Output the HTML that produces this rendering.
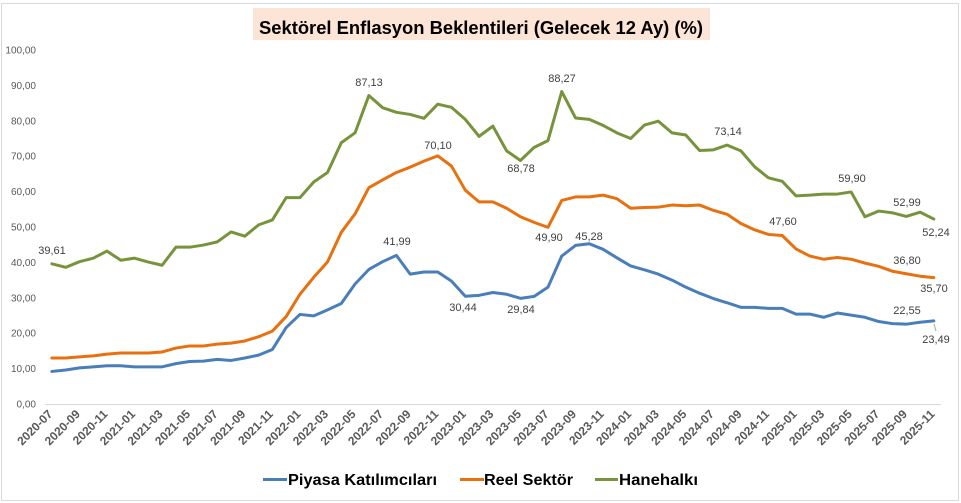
<!DOCTYPE html>
<html><head><meta charset="utf-8"><style>
html,body{margin:0;padding:0;background:#fff;}
svg{display:block;}
text{font-family:"Liberation Sans",Arial,sans-serif;}
</style></head><body>
<svg width="961" height="503" viewBox="0 0 961 503" xmlns="http://www.w3.org/2000/svg">
<rect x="0" y="0" width="961" height="503" fill="#fff"/>
<rect x="1.5" y="3.5" width="957" height="497" fill="none" stroke="#d9d9d9" stroke-width="1"/>
<!-- title -->
<rect x="253" y="8" width="457" height="32" fill="#fce4d6"/>
<text x="259" y="34" font-size="18" font-weight="bold" fill="#000" textLength="444" lengthAdjust="spacingAndGlyphs">Sektörel Enflasyon Beklentileri (Gelecek 12 Ay) (%)</text>
<!-- y labels -->
<g font-size="10" fill="#595959" text-anchor="end">
<text x="36" y="407.5">0,00</text>
<text x="36" y="372.1">10,00</text>
<text x="36" y="336.7">20,00</text>
<text x="36" y="301.3">30,00</text>
<text x="36" y="265.9">40,00</text>
<text x="36" y="230.5">50,00</text>
<text x="36" y="195.1">60,00</text>
<text x="36" y="159.7">70,00</text>
<text x="36" y="124.3">80,00</text>
<text x="36" y="88.9">90,00</text>
<text x="36" y="53.5">100,00</text>
</g>
<!-- axis -->
<line x1="45" y1="404.5" x2="941" y2="404.5" stroke="#d9d9d9" stroke-width="1"/>
<!-- series -->
<g transform="translate(51.9,404) scale(13.78,-3.54)" fill="none" stroke-linejoin="round" stroke-linecap="round">
<polyline vector-effect="non-scaling-stroke" stroke="#77933c" stroke-width="3" points="0,39.61 1,38.6 2,40.2 3,41.2 4,43.2 5,40.6 6,41.2 7,40.1 8,39.2 9,44.3 10,44.3 11,44.9 12,45.8 13,48.6 14,47.4 15,50.6 16,52.0 17,58.3 18,58.3 19,62.7 20,65.4 21,73.8 22,76.6 23,87.13 24,83.7 25,82.4 26,81.8 27,80.7 28,84.7 29,83.8 30,80.4 31,75.6 32,78.5 33,71.5 34,68.78 35,72.5 36,74.4 37,88.27 38,80.8 39,80.4 40,78.7 41,76.6 42,75.0 43,78.8 44,79.9 45,76.6 46,76.0 47,71.6 48,71.8 49,73.14 50,71.5 51,67.0 52,63.9 53,62.9 54,58.8 55,59.0 56,59.3 57,59.3 58,59.90 59,52.9 60,54.5 61,54.0 62,52.99 63,54.2 64,52.24"/>
<polyline vector-effect="non-scaling-stroke" stroke="#e8700f" stroke-width="3" points="0,13.0 1,13.0 2,13.3 3,13.6 4,14.1 5,14.4 6,14.4 7,14.4 8,14.7 9,15.8 10,16.4 11,16.4 12,16.9 13,17.2 14,17.8 15,19.0 16,20.6 17,24.7 18,31.0 19,35.8 20,40.1 21,48.5 22,53.7 23,61.1 24,63.3 25,65.4 26,66.9 27,68.6 28,70.10 29,67.2 30,60.4 31,57.1 32,57.1 33,55.3 34,52.9 35,51.3 36,49.90 37,57.5 38,58.5 39,58.5 40,59.0 41,58.0 42,55.3 43,55.5 44,55.6 45,56.2 46,56.0 47,56.2 48,54.7 49,53.6 50,51.0 51,49.2 52,47.9 53,47.60 54,43.8 55,41.8 56,40.9 57,41.4 58,40.9 59,39.8 60,38.9 61,37.5 62,36.80 63,36.1 64,35.70"/>
<polyline vector-effect="non-scaling-stroke" stroke="#4a7ebb" stroke-width="3" points="0,9.2 1,9.6 2,10.2 3,10.5 4,10.8 5,10.8 6,10.5 7,10.5 8,10.5 9,11.4 10,12.0 11,12.1 12,12.6 13,12.3 14,13.0 15,13.8 16,15.4 17,21.6 18,25.3 19,24.9 20,26.6 21,28.4 22,33.9 23,38.0 24,40.2 25,41.99 26,36.7 27,37.3 28,37.3 29,34.7 30,30.44 31,30.7 32,31.5 33,31.0 34,29.84 35,30.4 36,33.0 37,41.8 38,44.8 39,45.28 40,43.7 41,41.3 42,39.0 43,37.9 44,36.7 45,35.0 46,33.0 47,31.3 48,29.8 49,28.6 50,27.3 51,27.3 52,27.0 53,27.0 54,25.4 55,25.4 56,24.5 57,25.7 58,25.1 59,24.5 60,23.3 61,22.7 62,22.55 63,23.1 64,23.49"/>
</g>
<!-- leader line -->
<line x1="934" y1="324" x2="936" y2="331" stroke="#a6a6a6" stroke-width="1"/>
<!-- data labels -->
<g font-size="11" fill="#404040" text-anchor="middle">
<text x="52" y="254">39,61</text>
<text x="369" y="86">87,13</text>
<text x="438" y="149">70,10</text>
<text x="397" y="245">41,99</text>
<text x="463" y="311">30,44</text>
<text x="521" y="313">29,84</text>
<text x="521" y="172">68,78</text>
<text x="562" y="82">88,27</text>
<text x="549" y="241">49,90</text>
<text x="589" y="240">45,28</text>
<text x="728" y="135">73,14</text>
<text x="852" y="182">59,90</text>
<text x="907" y="206">52,99</text>
<text x="936" y="236">52,24</text>
<text x="783" y="225">47,60</text>
<text x="907" y="264">36,80</text>
<text x="934" y="292">35,70</text>
<text x="907" y="314">22,55</text>
<text x="936" y="343">23,49</text>
</g>
<!-- x labels -->
<g font-size="12" font-weight="bold" fill="#595959" text-anchor="end">
<text transform="translate(50.4,412) rotate(-45)" y="4">2020-07</text>
<text transform="translate(78.0,412) rotate(-45)" y="4">2020-09</text>
<text transform="translate(105.5,412) rotate(-45)" y="4">2020-11</text>
<text transform="translate(133.1,412) rotate(-45)" y="4">2021-01</text>
<text transform="translate(160.7,412) rotate(-45)" y="4">2021-03</text>
<text transform="translate(188.2,412) rotate(-45)" y="4">2021-05</text>
<text transform="translate(215.8,412) rotate(-45)" y="4">2021-07</text>
<text transform="translate(243.4,412) rotate(-45)" y="4">2021-09</text>
<text transform="translate(270.9,412) rotate(-45)" y="4">2021-11</text>
<text transform="translate(298.5,412) rotate(-45)" y="4">2022-01</text>
<text transform="translate(326.1,412) rotate(-45)" y="4">2022-03</text>
<text transform="translate(353.7,412) rotate(-45)" y="4">2022-05</text>
<text transform="translate(381.2,412) rotate(-45)" y="4">2022-07</text>
<text transform="translate(408.8,412) rotate(-45)" y="4">2022-09</text>
<text transform="translate(436.4,412) rotate(-45)" y="4">2022-11</text>
<text transform="translate(463.9,412) rotate(-45)" y="4">2023-01</text>
<text transform="translate(491.5,412) rotate(-45)" y="4">2023-03</text>
<text transform="translate(519.1,412) rotate(-45)" y="4">2023-05</text>
<text transform="translate(546.6,412) rotate(-45)" y="4">2023-07</text>
<text transform="translate(574.2,412) rotate(-45)" y="4">2023-09</text>
<text transform="translate(601.8,412) rotate(-45)" y="4">2023-11</text>
<text transform="translate(629.3,412) rotate(-45)" y="4">2024-01</text>
<text transform="translate(656.9,412) rotate(-45)" y="4">2024-03</text>
<text transform="translate(684.5,412) rotate(-45)" y="4">2024-05</text>
<text transform="translate(712.0,412) rotate(-45)" y="4">2024-07</text>
<text transform="translate(739.6,412) rotate(-45)" y="4">2024-09</text>
<text transform="translate(767.2,412) rotate(-45)" y="4">2024-11</text>
<text transform="translate(794.7,412) rotate(-45)" y="4">2025-01</text>
<text transform="translate(822.3,412) rotate(-45)" y="4">2025-03</text>
<text transform="translate(849.9,412) rotate(-45)" y="4">2025-05</text>
<text transform="translate(877.4,412) rotate(-45)" y="4">2025-07</text>
<text transform="translate(905.0,412) rotate(-45)" y="4">2025-09</text>
<text transform="translate(932.6,412) rotate(-45)" y="4">2025-11</text>
</g>
<!-- legend -->
<line x1="263" y1="479.5" x2="287" y2="479.5" stroke="#4a7ebb" stroke-width="3"/>
<text x="288" y="485" font-size="16" font-weight="bold" fill="#000" textLength="149" lengthAdjust="spacingAndGlyphs">Piyasa Katılımcıları</text>
<line x1="460" y1="479.5" x2="484" y2="479.5" stroke="#e8700f" stroke-width="3"/>
<text x="484" y="485" font-size="16" font-weight="bold" fill="#000" textLength="89" lengthAdjust="spacingAndGlyphs">Reel Sektör</text>
<line x1="595" y1="479.5" x2="618" y2="479.5" stroke="#77933c" stroke-width="3"/>
<text x="619" y="485" font-size="16" font-weight="bold" fill="#000" textLength="79" lengthAdjust="spacingAndGlyphs">Hanehalkı</text>
</svg>
</body></html>
